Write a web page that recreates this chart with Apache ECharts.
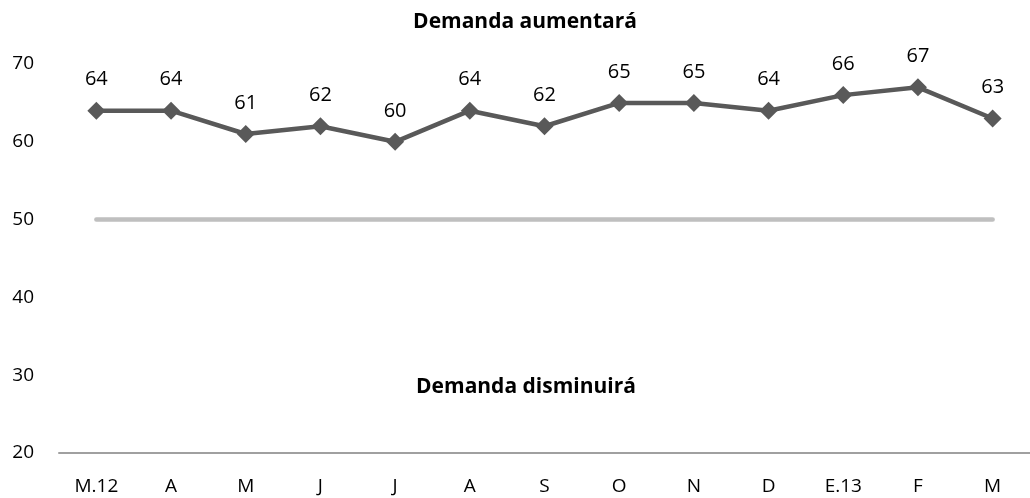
<!DOCTYPE html>
<html>
<head>
<meta charset="utf-8">
<script src="https://cdn.jsdelivr.net/npm/echarts@6/dist/echarts.min.js"></script>
<style>
  html, body { margin: 0; padding: 0; background: #fff; }
  #main { width: 1030px; height: 498px; }
</style>
</head>
<body>
<div id="main"></div>
<script>
// datos del gráfico
var meses = ['M.12', 'A', 'M', 'J', 'J', 'A', 'S', 'O', 'N', 'D', 'E.13', 'F', 'M']
var demanda = [64, 64, 61, 62, 60, 64, 62, 65, 65, 64, 66, 67, 63]
var umbral = [50, 50, 50, 50, 50, 50, 50, 50, 50, 50, 50, 50, 50]
var titulos = ['Demanda aumentará', 'Demanda disminuirá']

var fuente = '"Open Sans", "Noto Sans", sans-serif'

var myChart = echarts.init(document.getElementById('main'))

var option = {
  animation: false,
  title: [
    {
      text: titulos[0],
      left: 520,
      top: 7,
      textAlign: 'center',
      textStyle: { fontFamily: fuente, fontSize: 21, fontWeight: 'bold', color: '#000' }
    },
    {
      text: titulos[1],
      left: 521,
      top: 372,
      textAlign: 'center',
      textStyle: { fontFamily: fuente, fontSize: 21, fontWeight: 'bold', color: '#000' }
    }
  ],
  grid: {
    left: 59,
    right: 0,
    top: 64,
    bottom: 45
  },
  xAxis: {
    type: 'category',
    data: meses,
    boundaryGap: true,
    axisLine: { lineStyle: { color: '#a0a0a0', width: 2 } },
    axisTick: { show: false },
    axisLabel: { fontFamily: fuente, fontSize: 19, color: '#000', margin: 24 }
  },
  yAxis: {
    type: 'value',
    min: 20,
    max: 70,
    interval: 10,
    axisLine: { show: false },
    axisTick: { show: false },
    splitLine: { show: false },
    axisLabel: { fontFamily: fuente, fontSize: 19, color: '#000', margin: 25 }
  },
  series: [
    {
      name: 'umbral',
      type: 'line',
      data: umbral,
      symbol: 'none',
      lineStyle: { color: '#bfbfbf', width: 4.5, cap: 'round' },
      silent: true
    },
    {
      name: 'demanda',
      type: 'line',
      data: demanda,
      symbol: 'diamond',
      symbolSize: 18,
      itemStyle: { color: '#595959' },
      lineStyle: { color: '#595959', width: 4.5 },
      label: {
        show: true,
        position: 'top',
        distance: 12,
        fontFamily: fuente,
        fontSize: 20,
        color: '#000'
      }
    }
  ]
}

myChart.setOption(option)
</script>
</body>
</html>
